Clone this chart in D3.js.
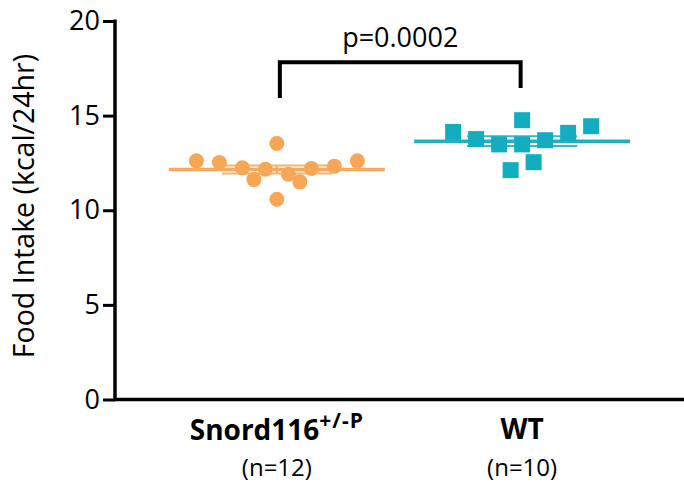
<!DOCTYPE html>
<html>
<head>
<meta charset="utf-8">
<script src="https://cdn.jsdelivr.net/npm/d3@7"></script>
<style>
  body { margin: 0; background: #fff; }
  svg { font-family: "Open Sans", "Noto Sans", sans-serif; }
</style>
</head>
<body>
<svg width="684" height="485"></svg>
<script>
// values read left-to-right within each scatter
var groups = ["Snord116", "WT"];
var snordValues = [12.61, 12.52, 12.24, 11.62, 12.17, 13.53, 10.58, 11.90, 11.50, 12.21, 12.33, 12.61];
var snordCols   = [-7, -5, -3, -2, -1, 0, 0, 1, 2, 3, 5, 7];
var wtValues = [14.14, 13.76, 13.48, 14.76, 13.48, 12.12, 12.54, 13.70, 14.09, 14.44];
var wtCols   = [-6, -4, -2, 0, 0, -1, 1, 2, 4, 6];
var nLabels = ["(n=12)", "(n=10)"];
var yTicks = [0, 5, 10, 15, 20];
var pLabel = "p=0.0002";

var svg = d3.select("svg"),
    margin = {top: 21, right: 0, bottom: 86, left: 115},
    width = +svg.attr("width") - margin.left - margin.right,
    height = +svg.attr("height") - margin.top - margin.bottom;

var orange = "#f7a655", teal = "#14adc0";

var x = d3.scalePoint().domain(groups).range([0, width]).padding(0.66),
    y = d3.scaleLinear().domain([0, 20]).range([height + 0.5, 0]),
    jitter = d3.scaleLinear().domain([-1, 1]).range([-11.5, 11.5]);

var g = svg.append("g")
    .attr("transform", "translate(" + margin.left + "," + margin.top + ")");

// y axis
var yAxis = g.append("g")
    .call(d3.axisLeft(y).tickValues(yTicks).tickSize(12).tickPadding(3));
yAxis.select(".domain").remove();
yAxis.selectAll(".tick line").attr("stroke", "#000").attr("stroke-width", 3);
yAxis.selectAll(".tick text").attr("font-size", 27).attr("fill", "#000")
    .attr("font-family", "Open Sans");

g.append("line")
    .attr("x1", 0).attr("x2", 0)
    .attr("y1", -1.5).attr("y2", height + 1.5)
    .attr("stroke", "#000").attr("stroke-width", 3.5);
g.append("line")
    .attr("x1", -1.5).attr("x2", width)
    .attr("y1", y(0)).attr("y2", y(0))
    .attr("stroke", "#000").attr("stroke-width", 3.5);

g.append("text")
    .attr("transform", "translate(-81," + (height / 2 - 4) + ") rotate(-90)")
    .attr("text-anchor", "middle")
    .attr("font-size", 28.5)
    .text("Food Intake (kcal/24hr)");

var sets = [
  {name: "Snord116", values: snordValues, cols: snordCols, color: orange, shape: "circle"},
  {name: "WT", values: wtValues, cols: wtCols, color: teal, shape: "square"}
];

sets.forEach(function(s) {
  var cx = x(s.name);
  var mean = d3.mean(s.values);
  var sem = d3.deviation(s.values) / Math.sqrt(s.values.length);
  var pts = s.values.map(function(v, i) { return {v: v, c: s.cols[i]}; });

  var sg = g.append("g");
  if (s.shape === "circle") {
    sg.selectAll("circle").data(pts).enter().append("circle")
      .attr("cx", function(d) { return cx + jitter(d.c); })
      .attr("cy", function(d) { return y(d.v); })
      .attr("r", 7.5)
      .attr("fill", s.color);
  } else {
    sg.selectAll("rect").data(pts).enter().append("rect")
      .attr("x", function(d) { return cx + jitter(d.c) - 8; })
      .attr("y", function(d) { return y(d.v) - 8; })
      .attr("width", 16).attr("height", 16)
      .attr("fill", s.color);
  }

  // mean and SEM
  g.append("line")
    .attr("x1", cx - 108).attr("x2", cx + 108)
    .attr("y1", y(mean)).attr("y2", y(mean))
    .attr("stroke", s.color).attr("stroke-width", 3.5).attr("opacity", 0.95);
  [mean + sem, mean - sem].forEach(function(m) {
    g.append("line")
      .attr("x1", cx - 55).attr("x2", cx + 55)
      .attr("y1", y(m)).attr("y2", y(m))
      .attr("stroke", s.color).attr("stroke-width", 2).attr("opacity", 0.85);
  });
  g.append("line")
    .attr("x1", cx).attr("x2", cx)
    .attr("y1", y(mean + sem)).attr("y2", y(mean - sem))
    .attr("stroke", s.color).attr("stroke-width", 2).attr("opacity", 0.85);
});

// significance bracket
var bx1 = x("Snord116") + 3, bx2 = x("WT") - 1.5;
g.append("path")
  .attr("d", "M" + bx1 + "," + (y(15.93)) + "V" + y(17.82) + "H" + bx2 + "V" + y(16.46))
  .attr("fill", "none").attr("stroke", "#000").attr("stroke-width", 4);
g.append("text")
  .attr("x", (bx1 + bx2) / 2).attr("y", 47 - margin.top)
  .attr("text-anchor", "middle").attr("font-size", 27)
  .text(pLabel);

// category labels
var lab1 = g.append("text")
  .attr("x", x("Snord116")).attr("y", 440 - margin.top)
  .attr("text-anchor", "middle").attr("font-size", 28).attr("font-weight", "bold");
lab1.append("tspan").text("Snord116");
lab1.append("tspan").attr("dy", -12).attr("font-size", 21).attr("letter-spacing", 1).text("+/-P");

g.append("text")
  .attr("x", x("WT")).attr("y", 439 - margin.top)
  .attr("text-anchor", "middle").attr("font-size", 28).attr("font-weight", "bold")
  .text("WT");

g.selectAll(".nlab").data(groups).enter().append("text")
  .attr("class", "nlab")
  .attr("x", function(d) { return x(d); })
  .attr("y", 476 - margin.top)
  .attr("text-anchor", "middle").attr("font-size", 24)
  .text(function(d, i) { return nLabels[i]; });
</script>
</body>
</html>
